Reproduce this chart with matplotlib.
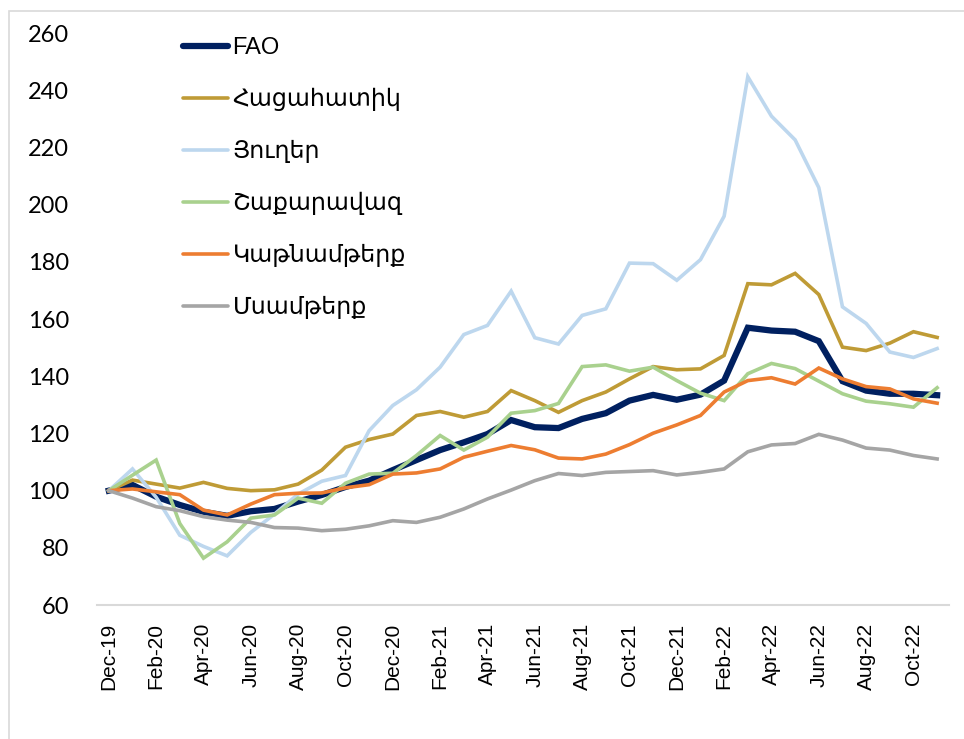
import matplotlib
matplotlib.use('Agg')
import matplotlib.pyplot as plt
from matplotlib.patches import Rectangle
import numpy as np
import pandas as pd

# monthly index values, Dec-19 = 100
months = pd.date_range('2019-12-01', periods=36, freq='MS').strftime('%b-%y').tolist()

fao = [100, 102.0, 97.9, 95.0, 92.6, 91.2, 92.8, 93.6, 96.2, 98.5,
       101.3, 103.5, 107.2, 110.7, 114.2, 116.9, 119.8, 124.7, 122.2, 121.9,
       125.1, 127.1, 131.5, 133.5, 131.8, 133.6, 138.5, 157.0, 156.0, 155.6,
       152.3, 138.3, 135.0, 133.9, 133.9, 133.4]
cereals = [100, 103.7, 102.3, 100.9, 102.9, 100.8, 100.0, 100.3, 102.3, 107.2,
           115.2, 117.9, 119.8, 126.3, 127.7, 125.7, 127.7, 135.0, 131.5, 127.4,
           131.5, 134.5, 139.1, 143.4, 142.3, 142.6, 147.3, 172.4, 172.0, 176.0,
           168.6, 150.2, 149.0, 151.6, 155.6, 153.6]
oils = [100, 107.6, 97.7, 84.4, 80.5, 77.2, 85.4, 91.8, 98.8, 103.3,
        105.3, 121.0, 129.8, 135.3, 143.2, 154.6, 157.8, 169.8, 153.5, 151.3,
        161.3, 163.6, 179.6, 179.4, 173.6, 180.8, 196.0, 244.8, 231.0, 222.7,
        206.0, 164.3, 158.5, 148.5, 146.6, 149.7]
sugar = [100, 105.4, 110.7, 88.5, 76.4, 82.1, 90.4, 91.5, 97.4, 95.6,
         102.6, 105.8, 106.1, 112.3, 119.3, 114.2, 118.7, 127.1, 128.0, 130.5,
         143.4, 144.0, 141.8, 143.2, 138.5, 134.1, 131.5, 140.9, 144.5, 142.7,
         138.3, 133.9, 131.3, 130.4, 129.2, 136.0]
dairy = [100, 100.6, 99.6, 98.6, 93.2, 91.5, 95.3, 98.6, 99.1, 99.2,
         101.0, 102.1, 105.8, 106.2, 107.6, 111.7, 113.8, 115.8, 114.3, 111.4,
         111.1, 112.8, 116.1, 120.1, 123.0, 126.3, 134.5, 138.5, 139.5, 137.3,
         142.9, 139.1, 136.4, 135.6, 132.1, 130.6]
meat = [100, 97.4, 94.4, 93.0, 90.9, 89.7, 88.9, 87.1, 86.9, 86.0,
        86.5, 87.7, 89.5, 88.9, 90.7, 93.6, 97.1, 100.2, 103.5, 106.0,
        105.3, 106.4, 106.7, 107.0, 105.5, 106.4, 107.6, 113.6, 116.0, 116.5,
        119.7, 117.7, 114.9, 114.2, 112.3, 111.1]

labels = ['FAO', 'Հացահատիկ', 'Յուղեր', 'Շաքարավազ', 'Կաթնամթերք', 'Մսամթերք']
colors = ['#002060', '#BF9B36', '#BDD7EE', '#A9D18E', '#ED7D31', '#A5A5A5']
series = [fao, cereals, oils, sugar, dairy, meat]

fig = plt.figure(figsize=(9.64, 7.39), dpi=100)
ax = fig.add_axes([0.1006, 0.1813, 0.8838, 0.7737])

x = np.arange(len(months))
for vals, lab, col in zip(series, labels, colors):
    lw = 4.5 if lab == 'FAO' else 2.6
    ax.plot(x, vals, color=col, lw=lw, label=lab, solid_joinstyle='miter')

ax.set_xlim(-0.5, len(months) - 0.5)
ax.set_ylim(60, 260)
ax.set_yticks(np.arange(60, 261, 20))
ax.set_xticks(x[::2])
ax.set_xticklabels(months[::2], rotation=90, fontsize=15, family='Liberation Sans')
for t in ax.get_yticklabels():
    t.set_fontsize(17)
    t.set_family('Lato')
ax.tick_params(axis='both', length=0)
ax.tick_params(axis='y', pad=20)
ax.tick_params(axis='x', pad=13)

for s in ['top', 'right', 'left']:
    ax.spines[s].set_visible(False)
ax.spines['bottom'].set_color('#D9D9D9')
ax.spines['bottom'].set_linewidth(1.5)

leg = ax.legend(loc='upper left', bbox_to_anchor=(183 / 964, 1 - 37 / 739),
                bbox_transform=fig.transFigure,
                frameon=False, handlelength=1.9, handletextpad=0.2,
                labelspacing=1.22, borderaxespad=0, borderpad=0,
                prop={'family': ['Liberation Sans', 'DejaVu Sans'], 'size': 17})
for h in leg.get_lines():
    h.set_solid_capstyle('round')

# outer chart border (cut off at right and bottom)
fig.patches.append(Rectangle((9 / 964, -0.2), 1.2, 1 - 11 / 739 + 0.2,
                             transform=fig.transFigure, fill=False,
                             edgecolor='#D9D9D9', lw=1.2, figure=fig))

fig.savefig('out.png', dpi=100, facecolor='white')
